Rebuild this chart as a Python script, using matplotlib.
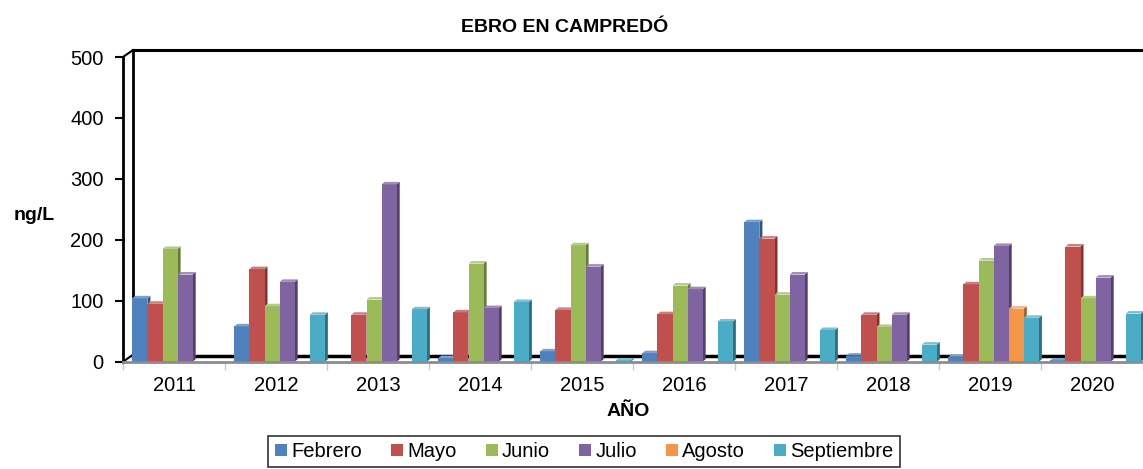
import numpy as np
import matplotlib.pyplot as plt
import matplotlib.colors as mcolors
from matplotlib.patches import Polygon
from matplotlib.lines import Line2D

plt.rcParams['font.family'] = ['Liberation Sans', 'DejaVu Sans']

years = ['2011', '2012', '2013', '2014', '2015', '2016', '2017', '2018', '2019', '2020']
months = ['Febrero', 'Mayo', 'Junio', 'Julio', 'Agosto', 'Septiembre']
nan = np.nan
febrero = [104, 58, nan, 6, 17, 14, 229, 10, 8, 2]
mayo = [95, 152, 77, 81, 85, 78, 202, 77, 127, 189]
junio = [185, 91, 102, 161, 191, 125, 110, 57, 166, 104]
julio = [143, 131, 291, 88, 156, 119, 143, 77, 190, 138]
agosto = [nan, nan, nan, nan, nan, nan, nan, nan, 87, nan]
septiembre = [nan, 77, 86, 98, 2, 66, 52, 28, 72, 79]
series = [febrero, mayo, junio, julio, agosto, septiembre]
colors = ['#4F81BD', '#C0504D', '#9BBB59', '#8064A2', '#F79646', '#4BACC6']

fig = plt.figure(figsize=(11.43, 4.69), dpi=100)
ax = fig.add_axes([123 / 1143, (469 - 361.7) / 469, 1020 / 1143, 304.7 / 469])
ax.set_xlim(0, len(years))
ax.set_ylim(0, 500)

# pixel -> data scale factors
px_x = len(years) / 1020.0
px_y = 500 / 304.7


def shade(c, f):
    r, g, b = mcolors.to_rgb(c)
    if f > 1:
        return (r + (1 - r) * (f - 1), g + (1 - g) * (f - 1), b + (1 - b) * (f - 1))
    return (r * f, g * f, b * f)


# back wall and floor of the 3-D box
wx, wy = 10 * px_x, 7 * px_y
ax.plot([wx, wx], [wy, 500 + wy], color='black', lw=2, clip_on=False, zorder=1)
ax.plot([wx, len(years)], [500 + wy, 500 + wy], color='black', lw=2.2, clip_on=False, zorder=1)
ax.plot([0, wx], [500, 500 + wy], color='black', lw=1.5, clip_on=False, zorder=1)
ax.plot([0, wx], [0, wy], color='black', lw=1.5, clip_on=False, zorder=1)
ax.plot([wx, len(years)], [wy - 2, wy - 2], color='black', lw=2.5, clip_on=False, zorder=1)

bw = 15.1 * px_x
x0 = 9.3 * px_x
sx, sy = 3 * px_x, 2.5 * px_y
for j, (vals, c) in enumerate(zip(series, colors)):
    lefts = np.arange(len(years)) + x0 + j * bw
    ax.bar(lefts, vals, width=bw, align='edge', color=c, linewidth=0, zorder=3)
    for xl, v in zip(lefts, vals):
        if np.isnan(v):
            continue
        side = Polygon([(xl + bw, 0), (xl + bw + sx, sy), (xl + bw + sx, v + sy), (xl + bw, v)],
                       closed=True, facecolor=shade(c, 0.65), linewidth=0, zorder=2, clip_on=False)
        top = Polygon([(xl, v), (xl + sx, v + sy), (xl + bw + sx, v + sy), (xl + bw, v)],
                      closed=True, facecolor=shade(c, 1.25), linewidth=0, zorder=3, clip_on=False)
        ax.add_patch(side)
        ax.add_patch(top)

for s in ['top', 'right']:
    ax.spines[s].set_visible(False)
ax.spines['left'].set_linewidth(2)
ax.spines['left'].set_color('black')
ax.spines['bottom'].set_linewidth(2)
ax.spines['bottom'].set_color('#8C8C8C')
ax.spines['bottom'].set_zorder(4)

ax.set_yticks(np.arange(0, 501, 100))
ax.tick_params(axis='y', length=6, width=1.5, color='black', labelsize=14.5, pad=8)
ax.set_xticks(np.arange(0, len(years) + 1))
ax.set_xticklabels([])
ax.set_xticks(np.arange(len(years)) + 0.5, minor=True)
ax.set_xticklabels(years, minor=True)
ax.tick_params(axis='x', which='major', length=6, width=1, color='#C8C8C8', direction='out')
ax.tick_params(axis='x', which='minor', length=0, labelsize=14.5, pad=10)

fig.text(565 / 1143, 1 - 28 / 469, 'EBRO EN CAMPREDÓ', ha='center', va='center',
         fontsize=14, fontweight='bold')
fig.text(34 / 1143, 1 - 215 / 469, 'ng/L', ha='center', va='center',
         fontsize=14, fontweight='bold')
fig.text(628 / 1143, 1 - 411 / 469, 'AÑO', ha='center', va='center',
         fontsize=14, fontweight='bold')

handles = [Line2D([], [], marker='s', linestyle='none', markersize=8,
                  markerfacecolor=c, markeredgewidth=0) for c in colors]
leg = fig.legend(handles, months, loc='upper center', ncol=6,
                 bbox_to_anchor=(584 / 1143, 1 - 436 / 469), frameon=True,
                 fancybox=False, edgecolor='black', fontsize=14.5,
                 handlelength=0.7, handletextpad=0.15, columnspacing=1.4,
                 borderpad=0.3, borderaxespad=0)
leg.get_frame().set_linewidth(1.2)

fig.savefig('out.png', dpi=100)
